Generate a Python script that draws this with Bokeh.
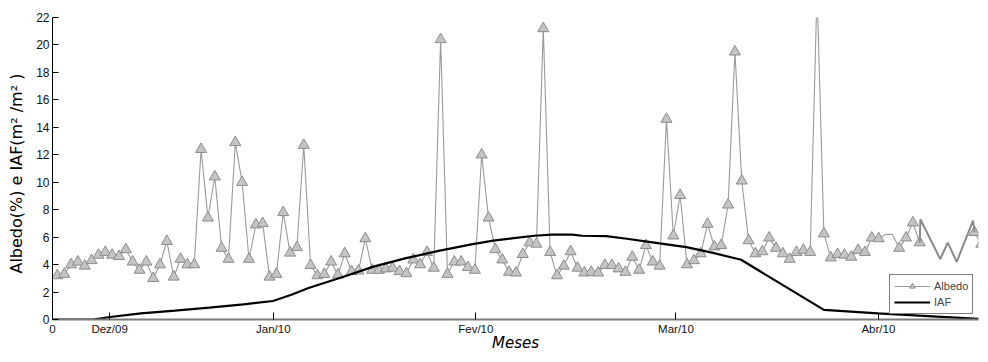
import math
from bokeh.plotting import figure
from bokeh.models import Range1d, FixedTicker, CustomJSTickFormatter, Legend, LegendItem
from bokeh.embed import file_html
from bokeh.resources import INLINE

nan = math.nan

# Albedo (%) - one value per day (NaN = no data in that span)
albedo = [3.2, 3.3, 4.0, 4.2, 3.9, 4.3, 4.7, 4.9, 4.7, 4.6,
          5.1, 4.2, 3.6, 4.2, 3.0, 4.0, 5.7, 3.1, 4.4, 4.0,
          4.0, 12.4, 7.4, 10.4, 5.2, 4.4, 12.9, 10.0, 4.4, 6.9,
          7.0, 3.1, 3.3, 7.8, 4.85, 5.25, 12.7, 3.95, 3.2, 3.3,
          4.2, 3.25, 4.8, 3.5, 3.55, 5.9, 3.6, 3.6, 3.7, 3.75,
          3.5, 3.35, 4.35, 4.0, 4.9, 3.75, 20.4, 3.3, 4.2, 4.2,
          3.8, 3.6, 12.0, 7.4, 5.1, 4.35, 3.45, 3.4, 4.75, 5.6,
          5.5, 21.2, 4.9, 3.2, 3.9, 4.95, 3.75, 3.4, 3.45, 3.4,
          3.95, 3.95, 3.7, 3.45, 4.55, 3.6, 5.4, 4.2, 3.9, 14.6,
          6.1, 9.05, 4.0, 4.3, 4.8, 6.95, 5.3, 5.4, 8.35, 19.5,
          10.1, 5.75, 4.8, 4.95, 5.95, 5.2, 4.8, 4.4, 4.9, 5.05,
          4.9, 24.0, 6.25, 4.5, 4.75, 4.7, 4.55, 5.05, 4.9, 5.95,
          5.9, 6.2, 6.2, 5.2, 5.95, 7.05, 5.6, nan, nan, nan,
          nan, nan, nan, nan, 6.35, 5.5]
dias = list(range(1, len(albedo) + 1))
sem_marcador = [122, 123]

# unmarked segment of the albedo curve at the end of the series
cauda_x = [127, 127.1, 130.0, 131.1, 132.4, 134.8, 135]
cauda_y = [5.6, 7.3, 4.4, 5.6, 4.2, 7.2, 6.35]

# IAF (m2/m2)
iaf_x = [0.29, 6.2, 8.7, 13.2, 18.2, 23.2, 28.2, 32.5, 35.2, 37.7, 40.2, 42.7,
         47.2, 51.8, 56.7, 61.5, 64.7, 67.7, 70.7, 73.2, 76.2, 77.7, 81.2,
         84.2, 88.2, 92.9, 96.8, 100.9, 113.0, 120.9, 128.2, 135.6]
iaf_y = [0.0, 0.0, 0.18, 0.45, 0.65, 0.87, 1.1, 1.35, 1.8, 2.3, 2.7, 3.1,
         3.85, 4.45, 5.0, 5.47, 5.75, 5.93, 6.1, 6.18, 6.18, 6.1, 6.08,
         5.88, 5.6, 5.27, 4.85, 4.35, 0.7, 0.45, 0.25, 0.05]

tick_pos = [0.29, 8.64, 32.55, 62.14, 91.39, 120.96]
tick_lab = ["0", "Dez/09", "Jan/10", "Fev/10", "Mar/10", "Abr/10"]
y_ticks = list(range(0, 23, 2))

p = figure(width=980, height=354, x_range=Range1d(0.29, 135.59), y_range=Range1d(0, 22),
           output_backend="svg", toolbar_location=None,
           min_border_left=52, min_border_right=2, min_border_top=17, min_border_bottom=33)
p.outline_line_color = None
p.grid.visible = False
p.background_fill_color = "white"
p.border_fill_color = "white"

# albedo
r_line = p.line(dias, albedo, line_color="#9a9a9a", line_width=1.1)
mx = [d for d, v in zip(dias, albedo) if d not in sem_marcador and not math.isnan(v)]
my = [v for d, v in zip(dias, albedo) if d not in sem_marcador and not math.isnan(v)]
r_pts = p.scatter(mx, my, marker="triangle", size=11, fill_color="#c4c4c4",
                  line_color="#8c8c8c", line_width=1)
p.line(cauda_x, cauda_y, line_color="#8a8a8a", line_width=2)

# IAF
r_iaf = p.line(iaf_x, iaf_y, line_color="black", line_width=2.2)

# axes
xa = p.xaxis[0]
xa.ticker = FixedTicker(ticks=tick_pos)
xa.formatter = CustomJSTickFormatter(args=dict(pos=tick_pos, lab=tick_lab), code="""
    for (let i = 0; i < pos.length; i++) { if (Math.abs(pos[i] - tick) < 1e-6) return lab[i]; }
    return '';
""")
xa.axis_line_color = "#7a7a7a"
xa.axis_line_width = 2
xa.major_tick_in = 7
xa.major_tick_out = 0
xa.major_tick_line_color = "black"
xa.minor_tick_line_color = None
xa.major_label_text_font = "Liberation Sans"
xa.major_label_text_font_size = "11.5px"
xa.major_label_text_color = "#111111"
xa.major_label_standoff = 3
xa.axis_label = "Meses"
xa.axis_label_text_font = "DejaVu Sans"
xa.axis_label_text_font_style = "italic"
xa.axis_label_text_font_size = "15px"
xa.axis_label_text_color = "black"
xa.axis_label_standoff = -4

ya = p.yaxis[0]
ya.ticker = FixedTicker(ticks=y_ticks)
ya.axis_line_color = "black"
ya.axis_line_width = 1
ya.major_tick_in = 6
ya.major_tick_out = 0
ya.minor_tick_line_color = None
ya.major_label_text_font = "Liberation Sans"
ya.major_label_text_font_size = "12px"
ya.major_label_text_color = "#111111"
ya.major_label_standoff = 3
ya.axis_label = "Albedo(%)  e  IAF(m² /m² )"
ya.axis_label_text_font = "DejaVu Sans"
ya.axis_label_text_font_style = "normal"
ya.axis_label_text_font_size = "16px"
ya.axis_label_text_color = "black"
ya.axis_label_standoff = 7

legend = Legend(items=[LegendItem(label="Albedo", renderers=[r_line, r_pts]),
                       LegendItem(label="IAF", renderers=[r_iaf])],
                location=(837, 5))
legend.border_line_color = "black"
legend.border_line_width = 1
legend.background_fill_color = "white"
legend.background_fill_alpha = 1
legend.label_text_font = "Liberation Sans"
legend.label_text_font_size = "11px"
legend.glyph_width = 36
legend.glyph_height = 14
legend.label_height = 14
legend.spacing = 2
legend.padding = 4
legend.margin = 0
legend.label_standoff = 4
p.add_layout(legend, "center")

open("out.html", "w").write(file_html(p, INLINE))
